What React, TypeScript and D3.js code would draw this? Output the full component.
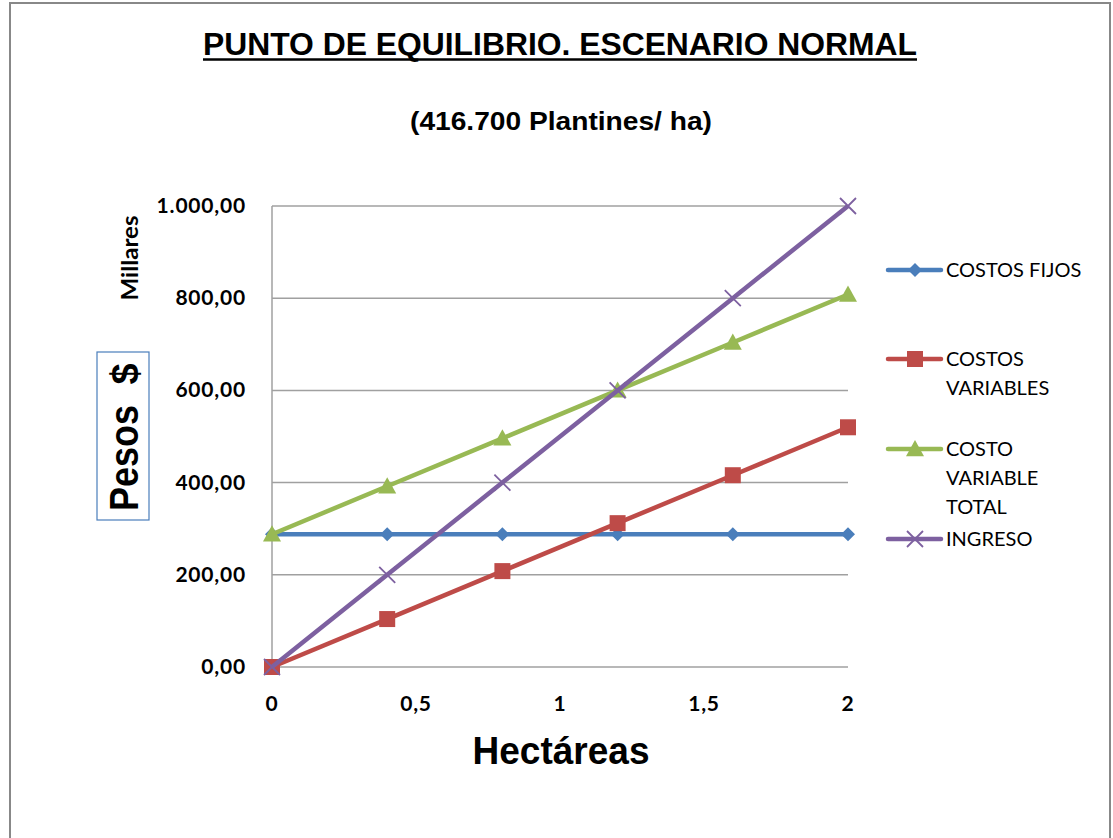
import React from "react";
import * as d3 from "d3";

// Hectares evaluated and the resulting series (thousands of pesos)
const hectareas = [0, 0.4, 0.8, 1.2, 1.6, 2.0];
const costosFijos = [288, 288, 288, 288, 288, 288];
const costosVariables = [0, 104, 208, 312, 416, 520];
const costoVariableTotal = [288, 392, 496, 600, 704, 808];
const ingreso = [0, 200, 400, 600, 800, 1000];

const xTicks = [0, 0.5, 1, 1.5, 2];
const yTicks = [0, 200, 400, 600, 800, 1000];

const seriesNames = ["COSTOS FIJOS", "COSTOS VARIABLES", "COSTO VARIABLE TOTAL", "INGRESO"];
const legendLines = [["COSTOS FIJOS"], ["COSTOS", "VARIABLES"], ["COSTO", "VARIABLE", "TOTAL"], ["INGRESO"]];
const colors = ["#4a7ebb", "#be4b48", "#98b954", "#7d60a0"];
const markers = ["diamond", "square", "triangle", "x"];

const W = 1113;
const H = 838;
const plot = { left: 272, right: 848, top: 206, bottom: 667 };

const fmtY = (v: number) => {
  const s = d3.format(",.2f")(v);
  return s.replace(/,/g, "#").replace(/\./g, ",").replace(/#/g, ".");
};
const fmtX = (v: number) => String(v).replace(".", ",");

function Marker({ kind, x, y, color }: { kind: string; x: number; y: number; color: string }) {
  if (kind === "diamond") {
    const r = 7;
    return <path d={`M${x},${y - r}L${x + r},${y}L${x},${y + r}L${x - r},${y}Z`} fill={color} />;
  }
  if (kind === "square") {
    const r = 8;
    return <rect x={x - r} y={y - r} width={2 * r} height={2 * r} fill={color} />;
  }
  if (kind === "triangle") {
    const r = 9;
    return <path d={`M${x},${y - r}L${x + r},${y + r * 0.8}L${x - r},${y + r * 0.8}Z`} fill={color} />;
  }
  const r = 8;
  return (
    <path
      d={`M${x - r},${y - r}L${x + r},${y + r}M${x - r},${y + r}L${x + r},${y - r}`}
      stroke={color}
      strokeWidth={1.8}
      fill="none"
    />
  );
}

export default function App() {
  const x = d3.scaleLinear().domain([0, 2]).range([plot.left, plot.right]);
  const y = d3.scaleLinear().domain([0, 1000]).range([plot.bottom, plot.top]);
  const allSeries = [costosFijos, costosVariables, costoVariableTotal, ingreso];
  const line = d3
    .line<number>()
    .x((_, i) => x(hectareas[i]))
    .y((d) => y(d));

  const labelFont = "Lato, 'Open Sans', sans-serif";
  const arial = "'Liberation Sans', Arial, sans-serif";

  const legendY = [270, 359, 449, 539];

  return (
    <svg
      width={W}
      height={H}
      style={{ position: "absolute", left: 0, top: 0, background: "#fff" }}
    >
      <rect x={10} y={3} width={1100} height={H} fill="#fff" stroke="#888" strokeWidth={2} />

      <text
        x={560}
        y={55}
        textAnchor="middle"
        fontFamily={arial}
        fontWeight="bold"
        fontSize={32}
        textLength={714}
        lengthAdjust="spacingAndGlyphs"
        fill="#000"
      >
        PUNTO DE EQUILIBRIO. ESCENARIO NORMAL
      </text>
      <line x1={203} x2={917} y1={59.5} y2={59.5} stroke="#000" strokeWidth={2.5} />
      <text
        x={561}
        y={130}
        textAnchor="middle"
        fontFamily={arial}
        fontWeight="bold"
        fontSize={26}
        textLength={302}
        lengthAdjust="spacingAndGlyphs"
        fill="#000"
      >
        (416.700 Plantines/ ha)
      </text>

      {yTicks.map((t) => (
        <line key={t} x1={plot.left} x2={plot.right} y1={y(t)} y2={y(t)} stroke="#a0a0a0" strokeWidth={1.5} />
      ))}
      <line x1={plot.left} x2={plot.left} y1={plot.top} y2={plot.bottom} stroke="#a0a0a0" strokeWidth={1.5} />

      {yTicks.map((t) => (
        <text
          key={t}
          x={246}
          y={y(t) + 7}
          textAnchor="end"
          fontFamily={labelFont}
          fontWeight="bold"
          fontSize={21}
          letterSpacing={0.8}
          fill="#000"
        >
          {fmtY(t)}
        </text>
      ))}
      {xTicks.map((t) => (
        <text
          key={t}
          x={x(t)}
          y={711}
          textAnchor="middle"
          fontFamily={labelFont}
          fontWeight="bold"
          fontSize={21}
          letterSpacing={0.8}
          fill="#000"
        >
          {fmtX(t)}
        </text>
      ))}

      <text
        transform="translate(138,258) rotate(-90)"
        textAnchor="middle"
        fontFamily={labelFont}
        fontWeight="bold"
        fontSize={22}
        textLength={85}
        lengthAdjust="spacingAndGlyphs"
        fill="#000"
      >
        Millares
      </text>

      <rect x={97} y={352} width={52} height={168} fill="#fff" stroke="#4a7ebb" strokeWidth={1.2} />
      <text
        transform="translate(138,458) rotate(-90)"
        textAnchor="middle"
        fontFamily={arial}
        fontWeight="bold"
        fontSize={40}
        textLength={106}
        lengthAdjust="spacingAndGlyphs"
        fill="#000"
      >
        Pesos
      </text>
      <text
        transform="translate(138,374) rotate(-90)"
        textAnchor="middle"
        fontFamily={arial}
        fontWeight="bold"
        fontSize={38}
        fill="#000"
      >
        $
      </text>

      <text
        x={561}
        y={764}
        textAnchor="middle"
        fontFamily={arial}
        fontWeight="bold"
        fontSize={38}
        textLength={177}
        lengthAdjust="spacingAndGlyphs"
        fill="#000"
      >
        Hectáreas
      </text>

      {allSeries.map((s, k) => (
        <g key={seriesNames[k]}>
          <path d={line(s) || ""} fill="none" stroke={colors[k]} strokeWidth={4.5} strokeLinejoin="round" />
          {s.map((v, i) => (
            <Marker key={i} kind={markers[k]} x={x(hectareas[i])} y={y(v)} color={colors[k]} />
          ))}
        </g>
      ))}

      {legendLines.map((lines, k) => (
        <g key={seriesNames[k]}>
          <line
            x1={888}
            x2={941}
            y1={legendY[k]}
            y2={legendY[k]}
            stroke={colors[k]}
            strokeWidth={4.5}
            strokeLinecap="round"
          />
          <Marker kind={markers[k]} x={915} y={legendY[k]} color={colors[k]} />
          {lines.map((l, j) => (
            <text
              key={l}
              x={946}
              y={legendY[k] + 7 + j * 29}
              fontFamily={labelFont}
              fontSize={20}
              fill="#000"
            >
              {l}
            </text>
          ))}
        </g>
      ))}
    </svg>
  );
}
